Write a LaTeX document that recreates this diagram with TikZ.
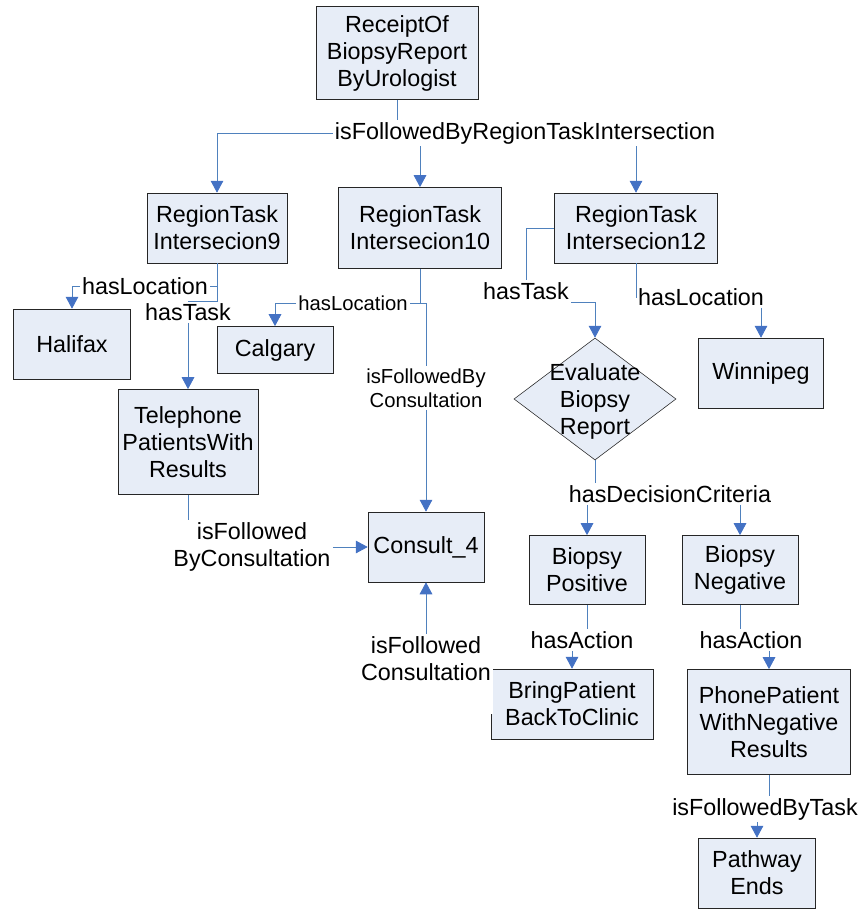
\documentclass[tikz,border=0pt]{standalone}
\usepackage{fontspec}
\setmainfont{Liberation Sans}
\usetikzlibrary{arrows.meta,shapes.geometric}
\definecolor{boxfill}{RGB}{231,237,247}
\definecolor{linkblue}{RGB}{79,129,189}
\definecolor{tipblue}{RGB}{68,114,196}
\tikzset{
    box/.style={draw=black!85,fill=boxfill,align=center,inner sep=1pt,font=\fontsize{16.6}{19.2}\selectfont},
    rel/.style={draw=linkblue,line width=0.6pt},
    relarrow/.style={rel,-{Triangle[width=9pt,length=8.5pt,color=tipblue]}},
    lbl/.style={align=center,inner sep=1.5pt,fill=white,font=\fontsize{16.6}{19.2}\selectfont},
    smalllbl/.style={lbl,font=\fontsize{14.4}{17}\selectfont}
}

\begin{document}
\begin{tikzpicture}[x=0.025cm,y=-0.025cm]
        \useasboundingbox (0,0) rectangle (862,909);
        \node[box,minimum width=4.05cm,minimum height=2.33cm] (receipt) at (397,53) {ReceiptOf\\BiopsyReport\\ByUrologist};
        \node[box,minimum width=3.5cm,minimum height=1.75cm] (rti9) at (217,228) {RegionTask\\Intersecion9};
        \node[box,minimum width=4.08cm,minimum height=2.03cm] (rti10) at (420,228) {RegionTask\\Intersecion10};
        \node[box,minimum width=4.08cm,minimum height=1.75cm] (rti12) at (636,228) {RegionTask\\Intersecion12};
        \node[box,minimum width=2.93cm,minimum height=1.75cm] (halifax) at (72,344) {Halifax};
        \node[box,minimum width=2.9cm,minimum height=1.18cm] (calgary) at (275,350) {Calgary};
        \node[box,minimum width=3.5cm,minimum height=2.63cm] (telephone) at (188,442) {Telephone\\PatientsWith\\Results};
        \node[box,minimum width=2.9cm,minimum height=1.75cm] (consult) at (426,547) {Consult\_4};
        \node[box,diamond,minimum width=4.05cm,minimum height=3.05cm,inner sep=0pt] (eval) at (595,399) {};
        \node[box,draw=none,fill=none] (evaltxt) at ([yshift=-2]eval) {Evaluate\\Biopsy\\Report};
        \node[box,minimum width=3.13cm,minimum height=1.75cm] (winnipeg) at (761,373) {Winnipeg};
        \node[box,minimum width=2.9cm,minimum height=1.73cm] (bpos) at (587,570) {Biopsy\\Positive};
        \node[box,minimum width=2.9cm,minimum height=1.73cm] (bneg) at (740,570) {Biopsy\\Negative};
        \node[box,minimum width=4.05cm,minimum height=1.75cm] (bring) at (572,704) {BringPatient\\BackToClinic};
        \node[box,minimum width=4.08cm,minimum height=2.63cm] (phone) at (769,722) {PhonePatient\\WithNegative\\Results};
        \node[box,minimum width=2.93cm,minimum height=1.75cm] (pathway) at (757,873) {Pathway\\Ends};

        \node[lbl] (lblRTI) at (525,133) {isFollowedByRegionTaskIntersection};
        \node[lbl] (lblLoc9) at (145,286) {hasLocation};
        \node[lbl] (lblTask9) at (188,312) {hasTask};
        \node[smalllbl] (lblLoc10) at (353,303) {hasLocation};
        \node[smalllbl] (lblCons10) at (426,388) {isFollowedBy\\Consultation};
        \node[lbl] (lblTask12) at (526,291) {hasTask};
        \node[lbl] (lblLoc12) at (701,297) {hasLocation};
        \node[lbl] (lblCrit) at (670,494) {hasDecisionCriteria};
        \node[lbl] (lblActPos) at (582,640) {hasAction};
        \node[lbl] (lblActNeg) at (751,640) {hasAction};
        \node[lbl] (lblTask) at (765,809) {isFollowedByTask};
        \node[lbl] (lblConsTel) at (252,547) {isFollowed\\ByConsultation};
        \node[lbl,anchor=north,text depth=0.8cm] (lblConsBot) at (426,634) {isFollowed\\Consultation};

        \draw[rel] (receipt.south) -- (receipt.south |- lblRTI.north);
        \draw[relarrow] (lblRTI.west) -| (rti9.north);
        \draw[relarrow] (lblRTI.south -| rti10) -- (rti10.north);
        \draw[relarrow] (lblRTI.south -| rti12) -- (rti12.north);
        \draw[rel] (rti9.south) |- (lblLoc9.east);
        \draw[relarrow] (lblLoc9.west) -| (halifax.north);
        \draw[rel] (rti9.south) |- (lblTask9.north);
        \draw[relarrow] (lblTask9.south) -- (telephone.north);
        \draw[rel] (rti10.south) |- (lblLoc10.east);
        \draw[relarrow] (lblLoc10.west) -| (calgary.north);
        \draw[rel] (rti10.south |- lblLoc10.east) -| (lblCons10.north);
        \draw[relarrow] (lblCons10.south) -- (lblCons10.south |- consult.north);
        \draw[rel] (rti12.west) -| (lblTask12.north);
        \draw[relarrow] (lblTask12.south east) -| (eval.north);
        \draw[rel] (rti12.south) |- (lblLoc12.west);
        \draw[relarrow] (lblLoc12.south -| winnipeg) -- (winnipeg.north);
        \draw[rel] (eval.south) -- (lblCrit.north -| eval.south);
        \draw[relarrow] (lblCrit.south -| bpos) -- (bpos.north);
        \draw[relarrow] (lblCrit.south -| bneg) -- (bneg.north);
        \draw[rel] (bpos.south) -- (lblActPos.north -| bpos.south);
        \draw[relarrow] (lblActPos.south -| bring) -- (bring.north);
        \draw[rel] (bneg.south) -- (lblActNeg.north -| bneg.south);
        \draw[relarrow] (lblActNeg.south -| phone) -- (phone.north);
        \draw[rel] (phone.south) -- (lblTask.north -| phone.south);
        \draw[relarrow] (lblTask.south -| pathway) -- (pathway.north);
        \draw[rel] (telephone.south) -- (lblConsTel.north -| telephone.south);
        \draw[relarrow] (lblConsTel.east) -- (consult.west);
        \draw[relarrow] (lblConsBot.north) -- (consult.south);
    \end{tikzpicture}
\end{document}
